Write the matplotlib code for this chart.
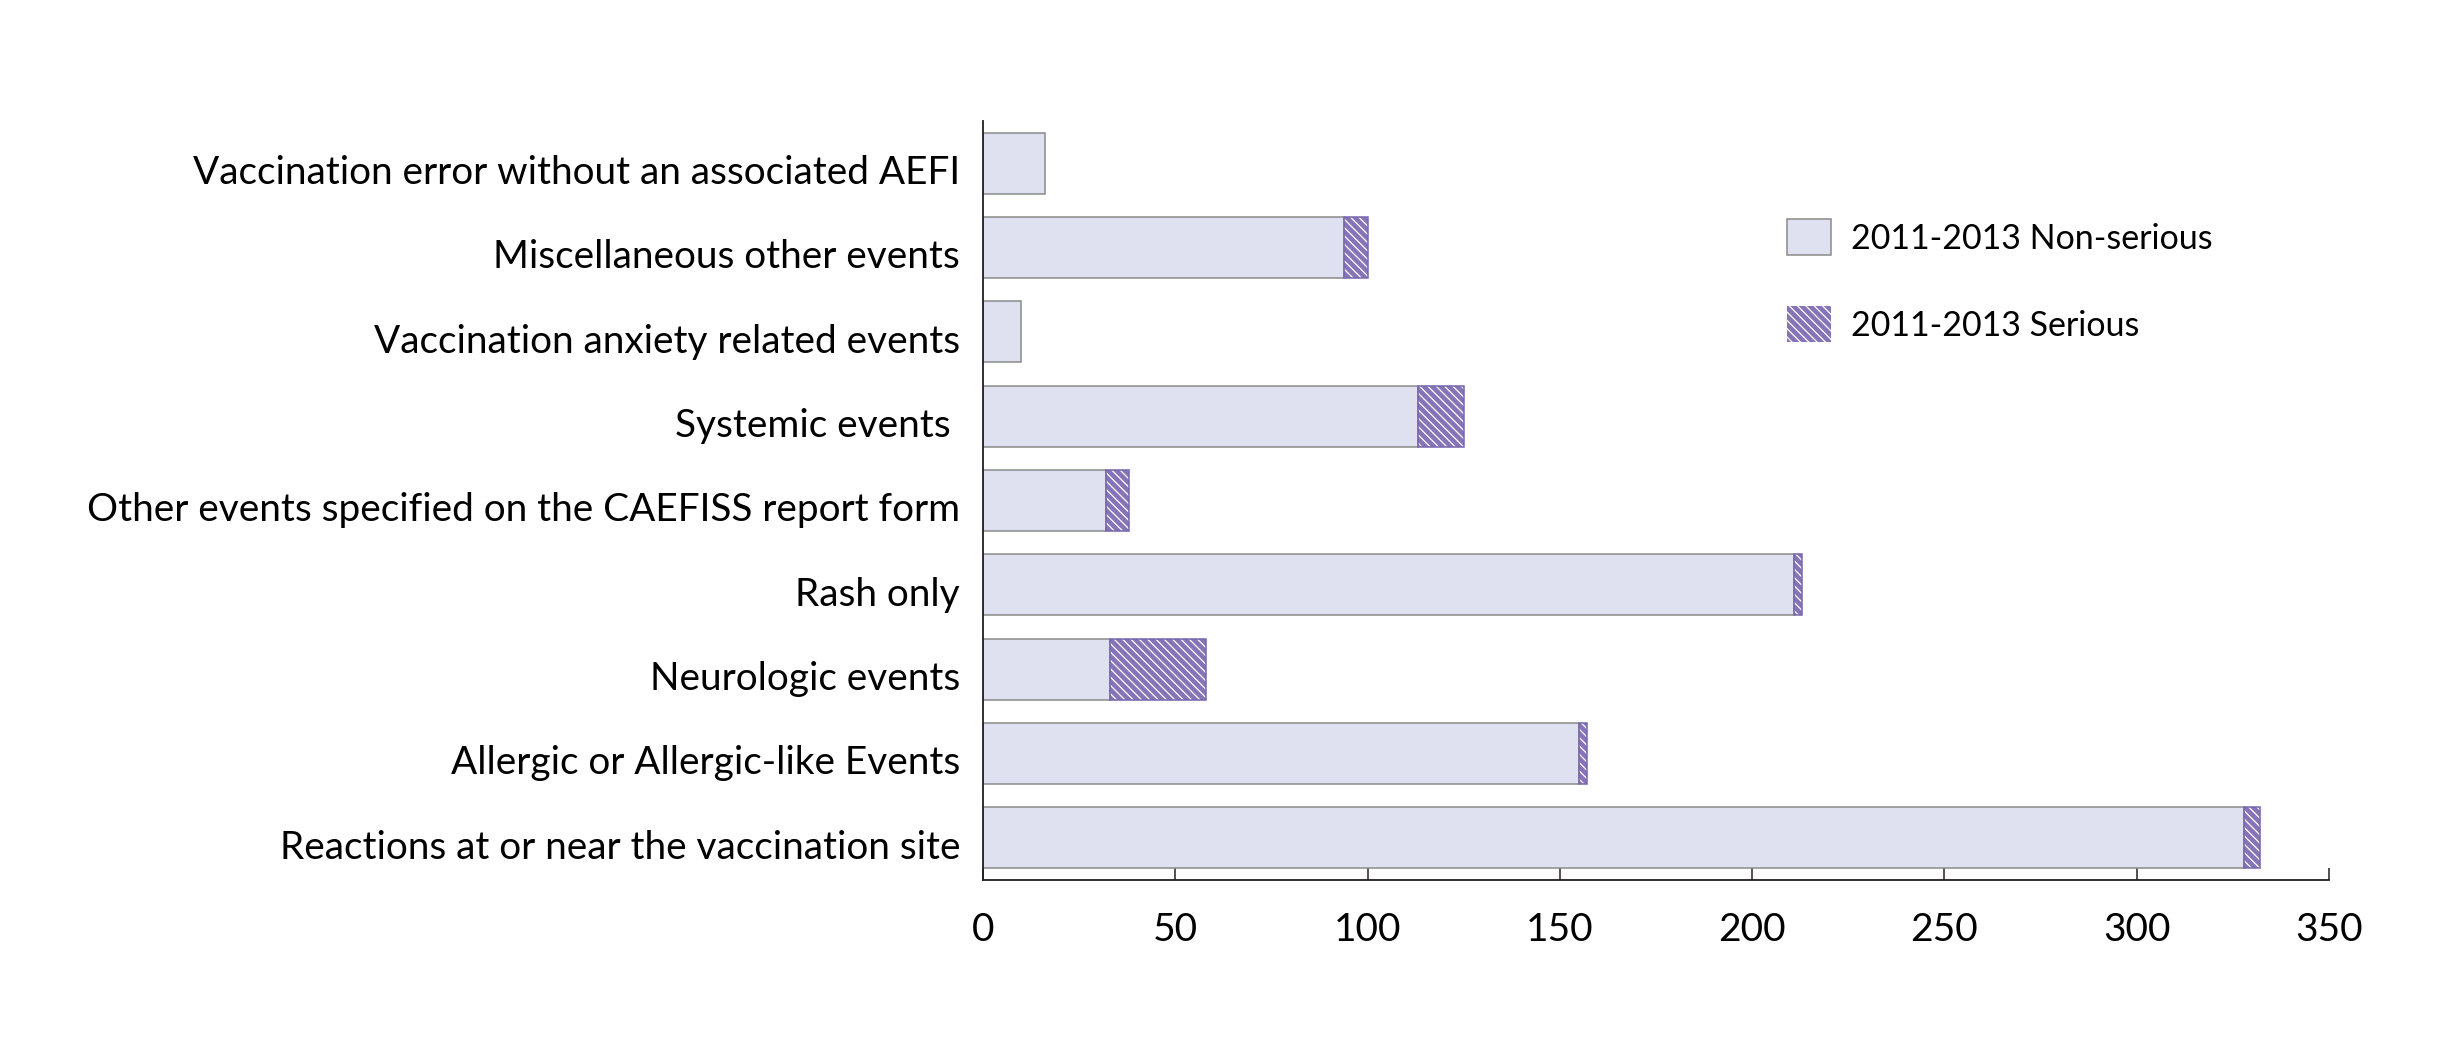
import matplotlib
matplotlib.use("Agg")
import matplotlib.pyplot as plt
import matplotlib.transforms as mtransforms
import numpy as np
from matplotlib.patches import Patch

categories = [
    "Vaccination error without an associated AEFI",
    "Miscellaneous other events",
    "Vaccination anxiety related events",
    "Systemic events ",
    "Other events specified on the CAEFISS report form",
    "Rash only",
    "Neurologic events",
    "Allergic or Allergic-like Events",
    "Reactions at or near the vaccination site",
]
non_serious = [16, 94, 10, 113, 32, 211, 33, 155, 328]
serious = [0, 6, 0, 12, 6, 2, 25, 2, 4]
x_ticks = [0, 50, 100, 150, 200, 250, 300, 350]
legend_labels = ["2011-2013 Non-serious", "2011-2013 Serious"]

plt.rcParams['font.family'] = ['Lato', 'DejaVu Sans']
plt.rcParams['hatch.linewidth'] = 0.9

NS_FACE = '#DFE1F0'
NS_EDGE = '#8a8a8a'
S_FACE = '#8674B8'
S_EDGE = '#7666AC'
AX_COL = '#231F20'

fig = plt.figure(figsize=(24.43, 10.44), dpi=100)
ax = fig.add_axes([983/2443, 1-880/1044, (2329-983)/2443, (880-121)/1044])

y = np.arange(len(categories))
ns = np.array(non_serious, dtype=float)
se = np.array(serious, dtype=float)
h = 0.72

ax.barh(y, ns, height=h, color=NS_FACE, edgecolor=NS_EDGE, linewidth=1.1,
        label=legend_labels[0], zorder=2)
mask = se > 0
ax.barh(y[mask], se[mask], left=ns[mask], height=h, color=S_FACE,
        edgecolor='white', hatch='\\\\\\\\', linewidth=0, zorder=3)
ax.barh(y[mask], se[mask], left=ns[mask], height=h, fill=False,
        edgecolor=S_EDGE, linewidth=1.1, zorder=4)

h1 = Patch(facecolor=NS_FACE, edgecolor=NS_EDGE, linewidth=1.1)
h2 = Patch(facecolor=S_FACE, edgecolor='white', hatch='\\\\\\\\', linewidth=0)
fig.legend([h1, h2], legend_labels, loc='upper left',
           bbox_to_anchor=(1787/2443, 1-219/1044), frameon=False,
           fontsize=24.5, handlelength=1.29, handleheight=1.26,
           handletextpad=0.58, labelspacing=1.5, borderpad=0,
           borderaxespad=0)

ax.set_xlim(0, 350)
ax.set_ylim(len(categories)-0.5, -0.5)
ax.set_yticks(y)
ax.set_yticklabels(categories, fontsize=27.9)
ax.set_xticks(x_ticks)
ax.set_xticklabels([str(t) for t in x_ticks], fontsize=28)
ax.set_xticks([350], minor=True)

ax.tick_params(axis='y', length=0, pad=16.5, colors='black')
ax.tick_params(axis='x', which='major', direction='in', length=8.6,
               width=1.1, pad=23, color=AX_COL, labelcolor='black')
ax.tick_params(axis='x', which='minor', direction='in', length=13.7,
               width=1.1, color=AX_COL)

shift = mtransforms.ScaledTranslation(0, -4.6/72, fig.dpi_scale_trans)
for lab in ax.get_yticklabels():
    lab.set_transform(lab.get_transform() + shift)

for s in ['top', 'right']:
    ax.spines[s].set_visible(False)
for s in ['left', 'bottom']:
    ax.spines[s].set_color(AX_COL)
    ax.spines[s].set_linewidth(1.3)

fig.savefig('out.png', dpi=100, facecolor='white')
